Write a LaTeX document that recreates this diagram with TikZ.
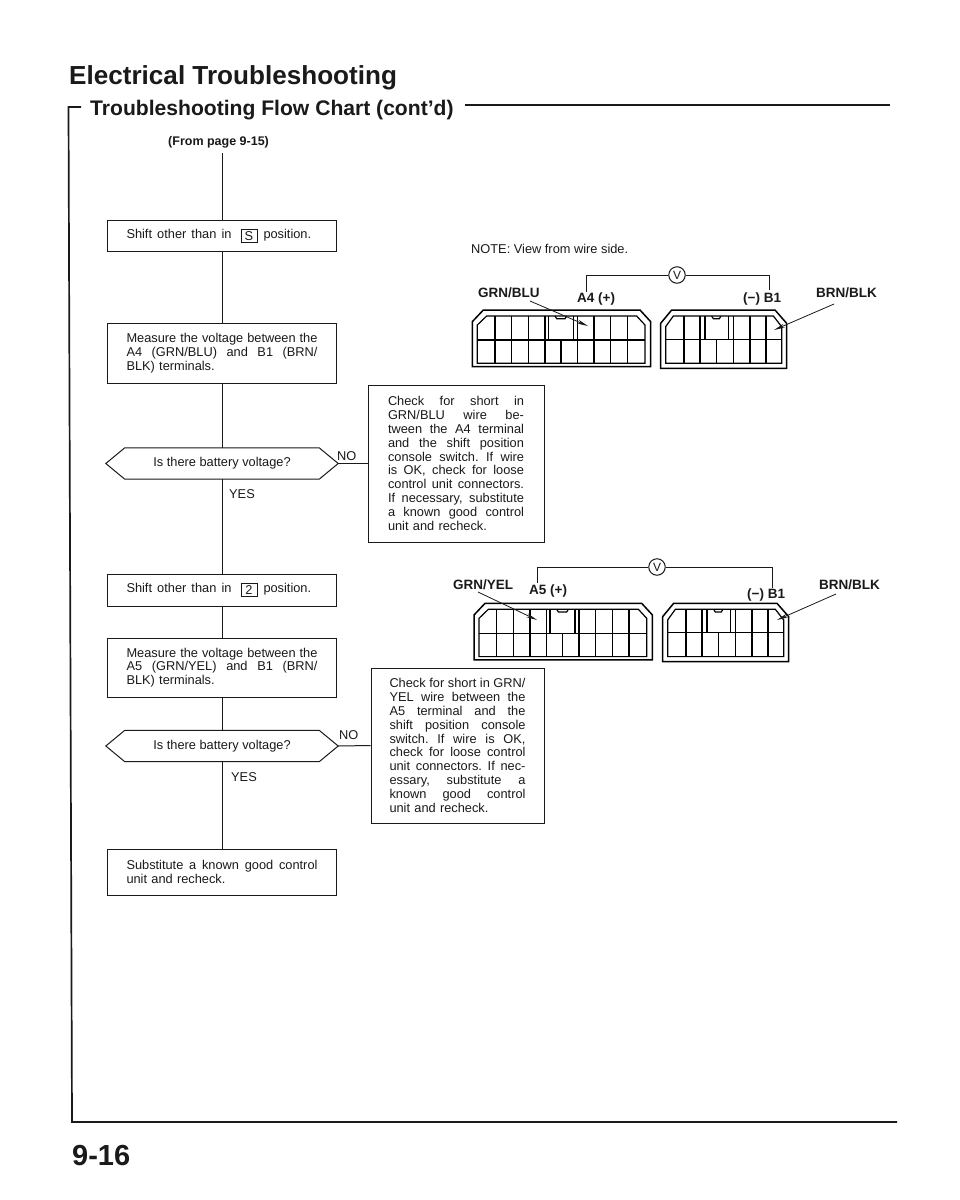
\documentclass[tikz,border=0pt]{standalone}
\usepackage{fontspec}
\setmainfont{Liberation Sans}
\usetikzlibrary{arrows.meta}
\definecolor{ink}{HTML}{1A1A1A}
\frenchspacing
\newcommand{\jl}[2]{\leavevmode\hbox to #1pt{\spaceskip=0pt\xspaceskip=0pt #2}}
\newcommand{\keybox}[1]{\raisebox{-1.6pt}{\setlength{\fboxsep}{0pt}\setlength{\fboxrule}{1pt}\fbox{\makebox[15pt][c]{\rule[-1.5pt]{0pt}{11.5pt}#1}}}}
\newcommand{\shiftline}[1]{\jl{105}{Shift other than in}\hspace{9pt}\keybox{#1}\hspace{6pt}position.}
\newcommand{\hexa}[1]{\draw[link] (#1.west)--([xshift=19pt]#1.north west)--([xshift=-19pt]#1.north east)--(#1.east)--([xshift=-19pt]#1.south east)--([xshift=19pt]#1.south west)--cycle;}
\newcommand{\leftconn}[2]{%
\begin{scope}[shift={(#1,#2)},x=0.33333pt,y=-0.33333pt,line width=1.2pt]
\draw[line width=1.5pt] (97,275)--(130,240)--(600,240)--(632,275)--(632,410)--(97,410)--cycle;
\draw (112,285)--(140,258)--(590,258)--(615,285)--(615,400)--(112,400)--cycle;
\draw (112,330)--(615,330);
\foreach \v in {165,215,265,315,325,400,412,462,512,562}{\draw (\v,258)--(\v,330);}
\foreach \v in {165,215,265,315,363,412,462,512,562}{\draw (\v,330)--(\v,400);}
\draw (345,258)--(350,266)--(375,266)--(380,258);
\end{scope}}
\newcommand{\rightconn}[2]{%
\begin{scope}[shift={(#1,#2)},x=0.33333pt,y=-0.33333pt,line width=1.2pt]
\draw[line width=1.5pt] (662,280)--(695,240)--(1005,240)--(1040,280)--(1040,415)--(662,415)--cycle;
\draw (677,290)--(700,258)--(1000,258)--(1025,290)--(1025,400)--(677,400)--cycle;
\draw (677,328)--(1025,328);
\foreach \v in {732,780,795,865,880,930,978}{\draw (\v,258)--(\v,328);}
\foreach \v in {732,780,830,880,930,978}{\draw (\v,328)--(\v,400);}
\draw (815,258)--(820,266)--(838,266)--(843,258);
\end{scope}}
\begin{document}
\begin{tikzpicture}[x=1pt,y=-1pt,
  every node/.style={text=ink},
  body/.style={font=\fontsize{12.8}{13.8}\selectfont},
  flowbox/.style={body,draw=ink,line width=1pt,inner sep=0pt,text width=191pt,align=left,minimum width=229pt},
  checkbox/.style={body,draw=ink,line width=1pt,inner sep=0pt,text width=136pt,align=left,minimum width=176pt,minimum height=157pt},
  decision/.style={body,inner sep=0pt,minimum width=232pt,minimum height=31pt},
  plain/.style={body,anchor=base west,inner sep=0pt},
  pinlabel/.style={font=\fontsize{13.5}{15}\selectfont\bfseries,anchor=base west,inner sep=0pt},
  link/.style={draw=ink,line width=1pt},
  frameline/.style={draw=ink,line width=1.7pt},
  wire/.style={draw=ink,line width=0.9pt},
  pointer/.style={draw=ink,line width=0.8pt,-{Stealth[length=11pt,width=4pt]}},
  meter/.style={draw=ink,line width=1pt,circle,inner sep=0pt,minimum size=16.5pt,font=\fontsize{12}{12}\selectfont}
]
\useasboundingbox (0,0) rectangle (960,1200);
\fill[white] (0,0) rectangle (960,1200);

% headings
\node[anchor=base west,inner sep=0pt,font=\fontsize{26.1}{30}\selectfont\bfseries] (title) at (69,84) {Electrical Troubleshooting};
\node[anchor=base west,inner sep=0pt,font=\fontsize{21.1}{24}\selectfont\bfseries] (subtitle) at (90,115) {Troubleshooting Flow Chart (cont'd)};
\node[anchor=base west,inner sep=0pt,font=\fontsize{29}{32}\selectfont\bfseries] (pageno) at (72,1165) {9-16};

% frame
\coordinate (f1) at (81,107);
\coordinate (f2) at (68.5,107);
\coordinate (f3) at (72,1122);
\coordinate (f4) at (897,1122);
\coordinate (f5) at (465,105);
\coordinate (f6) at (890,105);
\draw[frameline] (f1)--(f2)--(f3)--(f4);
\draw[frameline] (f5)--(f6);

% flow column
\node[anchor=base west,inner sep=0pt,font=\fontsize{12.5}{14}\selectfont\bfseries] (from) at (168,145) {(From page 9-15)};
\coordinate (fromend) at (222,153);
\node[flowbox,minimum height=31pt] (b1) at (222,236) {\shiftline{S}};
\node[flowbox,minimum height=60pt] (b2) at (222,353) {\jl{191}{Measure the voltage between the}\\\jl{191}{A4 (GRN/BLU) and B1 (BRN/}\\BLK) terminals.};
\node[decision] (d1) at (222,463.5) {Is there battery voltage?};
\hexa{d1}
\node[flowbox,minimum height=32pt] (b4) at (222,590) {\shiftline{2}};
\node[flowbox,minimum height=59pt] (b5) at (222,667.5) {\jl{191}{Measure the voltage between the}\\\jl{191}{A5 (GRN/YEL) and B1 (BRN/}\\BLK) terminals.};
\node[decision] (d2) at (222,746) {Is there battery voltage?};
\hexa{d2}
\node[flowbox,minimum height=46pt] (b6) at (222,872) {\jl{191}{Substitute a known good control}\\unit and recheck.};

\node[checkbox] (c1) at (456,463.5) {\jl{136}{Check for short in}\\\jl{136}{GRN/BLU wire be-}\\\jl{136}{tween the A4 terminal}\\\jl{136}{and the shift position}\\\jl{136}{console switch. If wire}\\\jl{136}{is OK, check for loose}\\\jl{136}{control unit connectors.}\\\jl{136}{If necessary, substitute}\\\jl{136}{a known good control}\\unit and recheck.};
\node[checkbox,minimum width=173pt,minimum height=155pt] (c2) at (457.5,745.5) {\jl{136}{Check for short in GRN/}\\\jl{136}{YEL wire between the}\\\jl{136}{A5 terminal and the}\\\jl{136}{shift position console}\\\jl{136}{switch. If wire is OK,}\\\jl{136}{check for loose control}\\\jl{136}{unit connectors. If nec-}\\\jl{136}{essary, substitute a}\\\jl{136}{known good control}\\unit and recheck.};

\draw[link] (fromend)--(b1.north);
\draw[link] (b1.south)--(b2.north);
\draw[link] (b2.south)--(d1.north);
\draw[link] (d1.south)--(b4.north);
\draw[link] (b4.south)--(b5.north);
\draw[link] (b5.south)--(d2.north);
\draw[link] (d2.south)--(b6.north);
\draw[link] (d1.east)--(c1.west);
\draw[link] (d2.east)--(c2.west);

\node[plain] (no1) at (337,460) {NO};
\node[plain] (yes1) at (229,498) {YES};
\node[plain] (no2) at (339,739) {NO};
\node[plain] (yes2) at (231,781) {YES};

% upper connector diagram
\node[plain] (note) at (471,253) {NOTE: View from wire side.};
\leftconn{440}{230}
\rightconn{440}{230}
\node[meter] (v1) at (677,275) {V};
\coordinate (a4top) at (586,292);
\coordinate (b1top) at (769,290);
\draw[wire] (a4top)|-(v1.west);
\draw[wire] (v1.east)-|(b1top);
\node[pinlabel] (gb) at (478,297) {GRN/BLU};
\node[pinlabel] (a4) at (577,302) {A4 (+)};
\node[pinlabel] (b1l) at (743,302) {(−) B1};
\node[pinlabel] (bb1) at (816,297) {BRN/BLK};
\coordinate (gbs) at (530,301);
\coordinate (gbe) at (588,326);
\coordinate (bbs) at (834,304);
\coordinate (bbe) at (774,330);
\draw[pointer] (gbs)--(gbe);
\draw[pointer] (bbs)--(bbe);

% lower connector diagram
\leftconn{441.7}{523.3}
\rightconn{442}{523.3}
\node[meter] (v2) at (657,567) {V};
\coordinate (a5top) at (537,583);
\coordinate (b1topb) at (772,588);
\draw[wire] (a5top)|-(v2.west);
\draw[wire] (v2.east)-|(b1topb);
\node[pinlabel] (gy) at (453,589) {GRN/YEL};
\node[pinlabel] (a5) at (529,594) {A5 (+)};
\node[pinlabel] (b1m) at (747,598) {(−) B1};
\node[pinlabel] (bb2) at (819,589) {BRN/BLK};
\coordinate (gys) at (478,592);
\coordinate (gye) at (537,620);
\coordinate (bbs2) at (836,594);
\coordinate (bbe2) at (777,620);
\draw[pointer] (gys)--(gye);
\draw[pointer] (bbs2)--(bbe2);
\end{tikzpicture}
\end{document}
